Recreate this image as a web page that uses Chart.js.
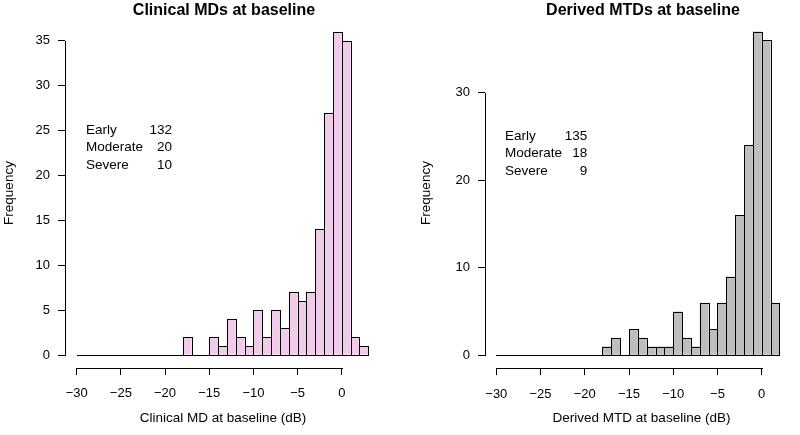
<!DOCTYPE html>
<html><head><meta charset="utf-8">
<script src="https://cdn.jsdelivr.net/npm/chart.js@4/dist/chart.umd.min.js"></script>
<style>
html,body{margin:0;padding:0;background:#fff;width:800px;height:435px;overflow:hidden}
#wrap{position:relative;width:800px;height:435px}
canvas{position:absolute;top:0}
</style></head><body>
<div id="wrap">
<canvas id="c1" width="400" height="435" style="left:0"></canvas>
<canvas id="c2" width="400" height="435" style="left:400px"></canvas>
</div>
<script>
// ---------- data ----------
const binLowerMD = [-30,-29,-28,-27,-26,-25,-24,-23,-22,-21,-20,-19,-18,-17,-16,-15,-14,-13,-12,-11,-10,-9,-8,-7,-6,-5,-4,-3,-2,-1,0,1,2];
const countsMD   = [0,0,0,0,0,0,0,0,0,0,0,0,2,0,0,2,1,4,2,1,5,2,5,3,7,6,7,14,27,36,35,2,1];
const binLowerMTD = [-30,-29,-28,-27,-26,-25,-24,-23,-22,-21,-20,-19,-18,-17,-16,-15,-14,-13,-12,-11,-10,-9,-8,-7,-6,-5,-4,-3,-2,-1,0,1];
const countsMTD   = [0,0,0,0,0,0,0,0,0,0,0,0,1,2,0,3,2,1,1,1,5,2,1,6,3,6,9,16,24,37,36,6];
const binWidth = 1;
const xTicks = [-30,-25,-20,-15,-10,-5,0];
const yTicksMD = [0,5,10,15,20,25,30,35];
const yTicksMTD = [0,10,20,30];
const stageLabels = ['Early','Moderate','Severe'];
const stageCountsMD = [132,20,10];
const stageCountsMTD = [135,18,9];

const FONT = '"Liberation Sans", Arial, Helvetica, sans-serif';

function makeChart(id, cfg){
  const lo = cfg.bins[0], hi = cfg.bins[cfg.bins.length-1] + binWidth;
  const xpad = 0.04*(hi-lo);
  const ymax = Math.max(...cfg.counts);
  const ypad = 0.04*ymax;
  const pts = cfg.bins.map((b,i)=>({x:b+binWidth/2, y:cfg.counts[i]}));

  const deco = {
    id:'deco',
    afterDraw(chart){
      const ctx = chart.ctx;
      const meta = chart.getDatasetMeta(0);
      ctx.save();
      ctx.fillStyle = '#000';
      // bar outlines (1px, shared edges like R's hist)
      meta.data.forEach(el=>{
        const x0 = Math.round(el.x - el.width/2);
        const x1 = Math.round(el.x + el.width/2);
        const yt = Math.round(el.y);
        const yb = Math.round(el.base);
        ctx.fillRect(x0, yt, x1-x0+1, 1);
        ctx.fillRect(x0, yb, x1-x0+1, 1);
        if (yb > yt) {
          ctx.fillRect(x0, yt, 1, yb-yt+1);
          ctx.fillRect(x1, yt, 1, yb-yt+1);
        }
      });
      // axis lines (only from first to last tick)
      const xs = chart.scales.x, ys = chart.scales.y, ca = chart.chartArea;
      const bx = Math.round(ca.bottom);
      const xa = Math.round(xs.getPixelForValue(xTicks[0]));
      const xb = Math.round(xs.getPixelForValue(xTicks[xTicks.length-1]));
      ctx.fillRect(xa, bx, xb-xa+1, 1);
      const lx = Math.round(ca.left);
      const ya = Math.round(ys.getPixelForValue(cfg.yTicks[cfg.yTicks.length-1]));
      const yb2 = Math.round(ys.getPixelForValue(cfg.yTicks[0]));
      ctx.fillRect(lx, ya, 1, yb2-ya+1);
      // texts
      ctx.textBaseline = 'middle';
      ctx.textAlign = 'center';
      ctx.font = 'bold 16px ' + FONT;
      ctx.fillText(cfg.title, cfg.titleX, 10.5);
      ctx.font = '13.5px ' + FONT;
      ctx.fillText(cfg.xTitle, cfg.xTitleX, 418);
      ctx.save();
      ctx.translate(cfg.yTitleX, 193);
      ctx.rotate(-Math.PI/2);
      ctx.fillText('Frequency', 0, 0);
      ctx.restore();
      stageLabels.forEach((s,i)=>{
        const yy = cfg.legY + i*17.6;
        ctx.textAlign = 'left';
        ctx.fillText(s, cfg.legX, yy);
        ctx.textAlign = 'right';
        ctx.fillText(String(cfg.stageCounts[i]), cfg.legR, yy);
      });
      ctx.restore();
    }
  };

  return new Chart(document.getElementById(id), {
    type:'bar',
    data:{ datasets:[{ data: pts, backgroundColor: cfg.color, borderWidth:0,
      barPercentage:1, categoryPercentage:1, inflateAmount:0 }]},
    options:{
      responsive:false, animation:false, events:[],
      layout:{ padding:{ left:0, top:cfg.top, right:cfg.right, bottom:0 } },
      plugins:{ legend:{display:false}, tooltip:{enabled:false}, title:{display:false} },
      scales:{
        x:{ type:'linear', offset:false, min: lo-xpad, max: hi+xpad,
          afterBuildTicks(s){ s.ticks = xTicks.map(v=>({value:v})); },
          afterFit(s){ s.height = cfg.xH; },
          grid:{ display:true, offset:false, drawOnChartArea:false, drawTicks:true, tickLength:7, color:'#000', tickColor:'#000' },
          border:{ display:false },
          ticks:{ color:'#000', font:{family:FONT, size:13}, padding:11, maxRotation:0, autoSkip:false,
            callback:(v)=> (v<0 ? '\u2212'+Math.abs(v) : String(v)) }
        },
        y:{ type:'linear', min: -ypad, max: ymax+ypad,
          afterBuildTicks(s){ s.ticks = cfg.yTicks.map(v=>({value:v})); },
          afterFit(s){ s.width = cfg.yW; },
          grid:{ display:true, offset:false, drawOnChartArea:false, drawTicks:true, tickLength:7, color:'#000', tickColor:'#000' },
          border:{ display:false },
          ticks:{ color:'#000', font:{family:FONT, size:13}, padding:8, autoSkip:false }
        }
      }
    },
    plugins:[deco]
  });
}

makeChart('c1', { bins:binLowerMD, counts:countsMD, yTicks:yTicksMD, color:'#F0CCEA',
  top:19, right:20, yW:65, xH:67,
  title:'Clinical MDs at baseline', titleX:224, xTitle:'Clinical MD at baseline (dB)', xTitleX:223, yTitleX:9,
  legX:86, legR:172, legY:130, stageCounts:stageCountsMD });

makeChart('c2', { bins:binLowerMTD, counts:countsMTD, yTicks:yTicksMTD, color:'#BEBEBE',
  top:18.6, right:9.3, yW:85, xH:66.8,
  title:'Derived MTDs at baseline', titleX:243, xTitle:'Derived MTD at baseline (dB)', xTitleX:241.5, yTitleX:26,
  legX:105, legR:187.3, legY:136, stageCounts:stageCountsMTD });
</script>
</body></html>
